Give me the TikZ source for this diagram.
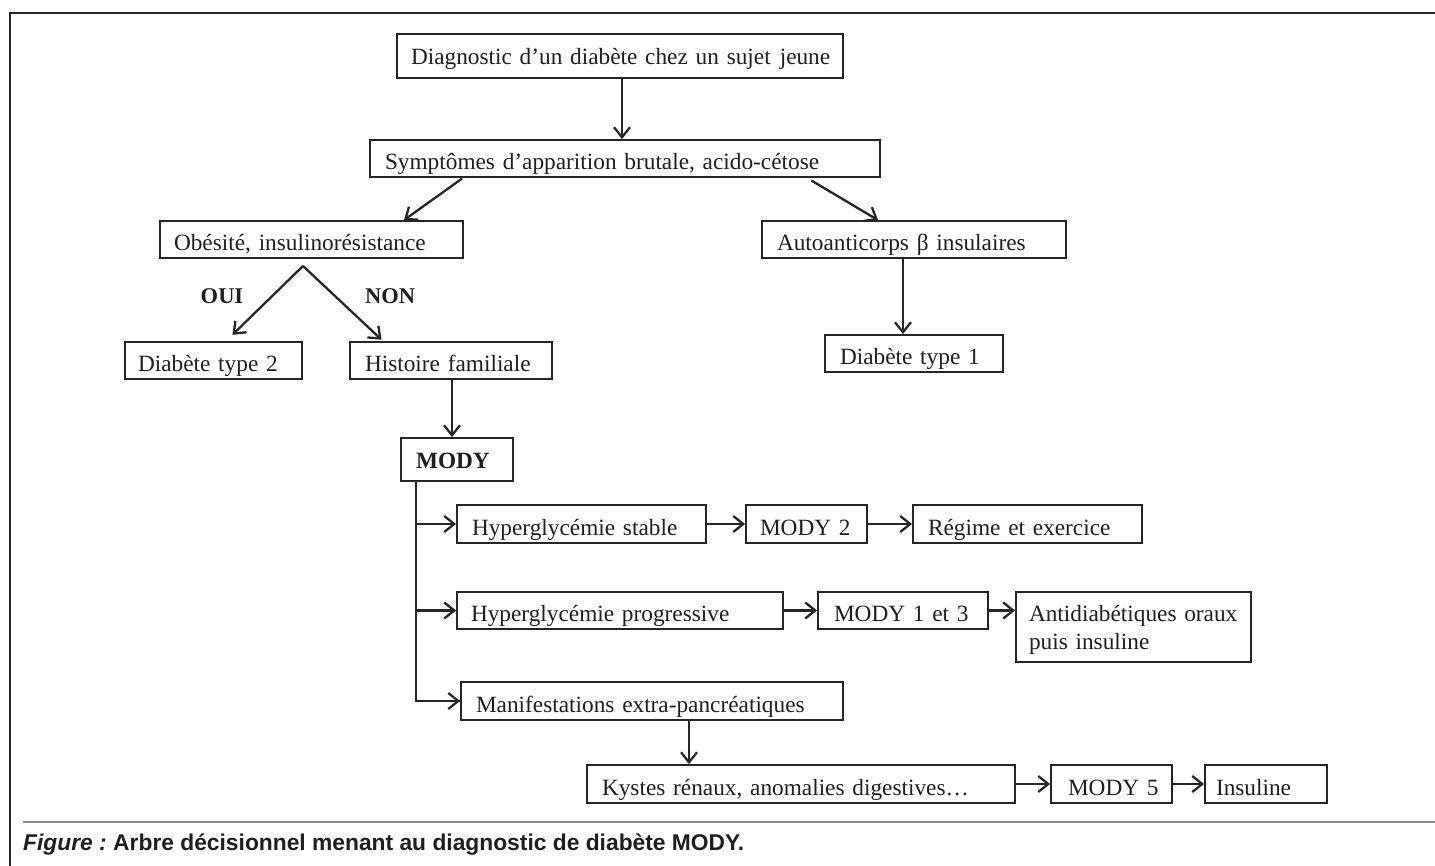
\documentclass[tikz,border=0pt]{standalone}
\usepackage{fontspec}
\setmainfont{Liberation Serif}
\newfontfamily\capfont{Liberation Sans}
\usetikzlibrary{arrows.meta,calc}
\newcommand\boxfont{\fontsize{23.3}{28}\selectfont}
\tikzset{
  box/.style={draw=black!85, line width=1.8pt, align=left, inner ysep=0pt, font=\boxfont, text=black!88, text height=22pt, text depth=0pt},
  arr/.style={draw=black!85, line width=2.3pt, -{Straight Barb[length=10pt,width=16pt]}},
  trunk/.style={draw=black!85, line width=2.3pt},
  lbl/.style={font=\fontsize{22.5}{26}\selectfont\bfseries, text=black!88, inner sep=0pt},
}
\begin{document}
\begin{tikzpicture}[x=1pt,y=-1pt]
\useasboundingbox (0,0) rectangle (1435,866);
% frame
\draw[black!85, line width=2.5pt] (10,870) -- (10,13) -- (1440,13);
% boxes
\node[box, minimum width=446pt, minimum height=44pt, text width=418pt, inner xsep=14pt, text height=18pt] (B1) at (620,56) {\mbox{Diagnostic d’un diabète chez un sujet\hspace{9pt}jeune}};
\node[box, minimum width=510pt, minimum height=37pt, text width=480pt, inner xsep=15pt] (B2) at (625,158.5) {\mbox{Symptômes d’apparition brutale, acido-cétose}};
\node[box, minimum width=303pt, minimum height=37pt, text width=275pt, inner xsep=14pt] (B3) at (311.5,239.5) {\mbox{Obésité, insulinorésistance}};
\node[box, minimum width=304pt, minimum height=37pt, text width=274pt, inner xsep=15pt] (B4) at (914,239.5) {\mbox{Autoanticorps β insulaires}};
\node[box, minimum width=177pt, minimum height=37pt, text width=151pt, inner xsep=13pt] (B5) at (213.5,360.5) {\mbox{Diabète type 2}};
\node[box, minimum width=202pt, minimum height=37pt, text width=172pt, inner xsep=15pt] (B6) at (451,360.5) {\mbox{Histoire familiale}};
\node[box, minimum width=178pt, minimum height=37pt, text width=148pt, inner xsep=15pt] (B7) at (914,353.5) {\mbox{Diabète type 1}};
\node[box, minimum width=112pt, minimum height=43pt, text width=82pt, inner xsep=15pt, text height=17pt] (B8) at (457,459.5) {\mbox{\bfseries MODY}};
\node[box, minimum width=249pt, minimum height=38pt, text width=219pt, inner xsep=15pt] (B9) at (581.5,524) {\mbox{Hyperglycémie stable}};
\node[box, minimum width=121pt, minimum height=38pt, text width=93pt, inner xsep=14pt] (B10) at (806.5,524) {\mbox{MODY 2}};
\node[box, minimum width=229pt, minimum height=38pt, text width=199pt, inner xsep=15pt] (B11) at (1027.5,524) {\mbox{Régime et exercice}};
\node[box, minimum width=326pt, minimum height=37pt, text width=298pt, inner xsep=14pt] (B12) at (620,610.5) {\mbox{Hyperglycémie progressive}};
\node[box, minimum width=170pt, minimum height=37pt, text width=138pt, inner xsep=16pt] (B13) at (903,610.5) {\mbox{MODY 1 et 3}};
\node[box, minimum width=235pt, minimum height=70pt, text width=209pt, inner xsep=13pt, text depth=33pt] (B14) at (1133.5,627) {\mbox{Antidiabétiques oraux}\\\mbox{puis insuline}};
\node[box, minimum width=382pt, minimum height=38pt, text width=352pt, inner xsep=15pt] (B15) at (652,701) {\mbox{Manifestations extra-pancréatiques}};
\node[box, minimum width=428pt, minimum height=38pt, text width=398pt, inner xsep=15pt] (B16) at (801,784) {\mbox{Kystes rénaux, anomalies digestives…}};
\node[box, minimum width=121pt, minimum height=38pt, text width=87pt, inner xsep=17pt] (B17) at (1111.5,784) {\mbox{MODY 5}};
\node[box, minimum width=122pt, minimum height=38pt, text width=100pt, inner xsep=11pt] (B18) at (1266,784) {\mbox{Insuline}};
% labels
\node[lbl] (oui) at (222,296) {OUI};
\node[lbl] (non) at (390,296) {NON};
% connectors
\draw[arr] (B1.south -| 622,0) -- (B2.north -| 622,0);
\draw[arr, shorten <=1pt] (B2.south -| 463,0) -- (B3.north -| 404,0);
\draw[arr, shorten <=5pt] (B2.south -| 807,0) -- (B4.north -| 878,0);
\coordinate (apex) at (303,266);
\draw[arr, shorten >=9pt] (apex) -- (B5.north -| 226,0);
\draw[arr, shorten >=2pt] (apex) -- (B6.north -| 383,0);
\draw[arr] (B4.south -| 903,0) -- (B7.north -| 903,0);
\draw[arr] (B6.south -| 452,0) -- (B8.north -| 452,0);
\draw[trunk] (B8.south -| 416,0) |- (B15.west);
\draw[arr] (B9.west -| 416,0) -- (B9.west);
\draw[arr] (B12.west -| 416,0) -- (B12.west);
\draw[arr] (B15.west -| 416,0) -- (B15.west);
\draw[arr] (B9.east) -- (B10.west);
\draw[arr] (B10.east) -- (B11.west);
\draw[arr] (B12.east) -- (B13.west);
\draw[arr] (B13.east) -- (B13.east -| B14.west);
\draw[arr] (B15.south -| 689,0) -- (B16.north -| 689,0);
\draw[arr] (B16.east) -- (B17.west);
\draw[arr] (B17.east) -- (B18.west);
% caption
\draw[black!45, line width=1.8pt] (23,822) -- (1440,822);
\node[anchor=west, inner sep=0pt, text=black!88, font=\capfont\fontsize{22.8}{26}\selectfont\bfseries] (cap) at (23,845) {\textit{Figure :}\hspace{-2pt} Arbre décisionnel menant au diagnostic de diabète MODY.};
\end{tikzpicture}
\end{document}
